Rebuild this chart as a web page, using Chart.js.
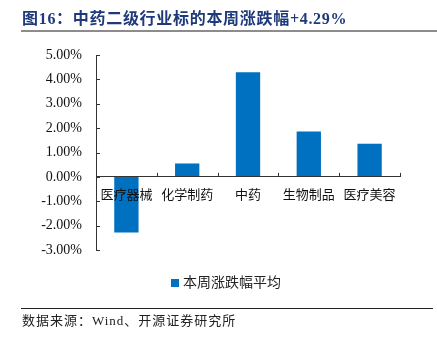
<!DOCTYPE html>
<html><head><meta charset="utf-8">
<script src="https://cdn.jsdelivr.net/npm/chart.js@4"></script>
<style>
html,body{margin:0;padding:0;background:#fff;}
#wrap{position:relative;width:437px;height:344px;overflow:hidden;background:#fff;}
#c{position:absolute;left:0;top:0;}
#title{position:absolute;left:22px;top:9px;font-weight:bold;font-size:16px;font-family:"Liberation Serif","Noto Sans CJK SC",serif;color:#1f3a7a;letter-spacing:0.7px;white-space:nowrap;line-height:20px;}
#tline{position:absolute;left:21px;top:30px;width:416px;height:2px;background:#8c8c8c;}
#bline{position:absolute;left:21px;top:308px;width:412px;height:1px;background:#222;}
#src{position:absolute;left:22px;top:312px;font-size:13px;font-family:"Liberation Serif","Noto Sans CJK SC",serif;color:#222;letter-spacing:1px;white-space:nowrap;line-height:18px;}
#legend{position:absolute;left:171px;top:272px;height:18px;line-height:18px;white-space:nowrap;font-size:14px;font-family:"Noto Sans CJK SC";color:#222;}
#legend .box{display:inline-block;width:8px;height:8px;background:#0070C0;margin-right:4px;vertical-align:0px;}
</style>
</head><body>
<div id="wrap">
<canvas id="c" width="437" height="344"></canvas>
<div id="title">图16：中药二级行业标的本周涨跌幅+4.29%</div>
<div id="tline"></div>
<div id="legend"></div>
<div id="bline"></div>
<div id="src">数据来源：Wind、开源证券研究所</div>
</div>
<script>
const categories = ['医疗器械', '化学制药', '中药', '生物制品', '医疗美容'];
const weeklyChange = [-2.28, 0.55, 4.29, 1.86, 1.36];
const seriesName = '本周涨跌幅平均';
const yMin = -3, yMax = 5, yStep = 1;

const tickMarks = {
  id: 'tickMarks',
  afterDatasetsDraw(chart) {
    const ctx = chart.ctx, x = chart.scales.x, y = chart.scales.y;
    const left = chart.chartArea.left, zero = y.getPixelForValue(0);
    ctx.save();
    ctx.strokeStyle = '#333';
    ctx.lineWidth = 1;
    ctx.beginPath();
    for (let v = yMin; v <= yMax; v += yStep) {
      const py = Math.round(y.getPixelForValue(v)) + 0.5;
      ctx.moveTo(left, py); ctx.lineTo(left + 4, py);
    }
    const n = categories.length;
    for (let i = 0; i <= n; i++) {
      const px = Math.round(x.getPixelForValue(i - 0.5)) + 0.5;
      ctx.moveTo(px, zero); ctx.lineTo(px, zero - 4);
    }
    ctx.stroke();
    ctx.restore();
  }
};

const chart = new Chart(document.getElementById('c'), {
  type: 'bar',
  data: {
    labels: categories,
    datasets: [{
      label: seriesName,
      data: weeklyChange,
      backgroundColor: '#0070C0',
      borderWidth: 0,
      categoryPercentage: 1,
      barPercentage: 0.4
    }]
  },
  options: {
    responsive: false,
    animation: false,
    devicePixelRatio: 1,
    layout: { padding: { top: 55, left: 0, right: 37, bottom: 94 } },
    plugins: {
      tooltip: { enabled: false },
      legend: { display: false }
    },
    scales: {
      x: {
        position: { y: 0 },
        afterFit(s) { s.height = 0; },
        grid: { display: false, drawTicks: false },
        border: { display: true, color: '#333', width: 1, z: 1 },
        ticks: {
          z: 1,
          color: '#111', padding: 9, maxRotation: 0, autoSkip: false,
          font: { family: '"Noto Sans CJK SC"', size: 13 }
        }
      },
      y: {
        min: yMin, max: yMax,
        afterFit(s) { s.width = 96; },
        grid: { display: false, drawTicks: false },
        border: { display: true, color: '#333', width: 1 },
        ticks: {
          stepSize: yStep, padding: 14, color: '#111',
          font: { family: '"Liberation Serif"', size: 14 },
          callback: v => v.toFixed(2) + '%'
        }
      }
    }
  },
  plugins: [tickMarks]
});

const lg = document.getElementById('legend');
const box = document.createElement('span');
box.className = 'box';
lg.appendChild(box);
lg.appendChild(document.createTextNode(chart.data.datasets[0].label));
</script>
</body></html>
